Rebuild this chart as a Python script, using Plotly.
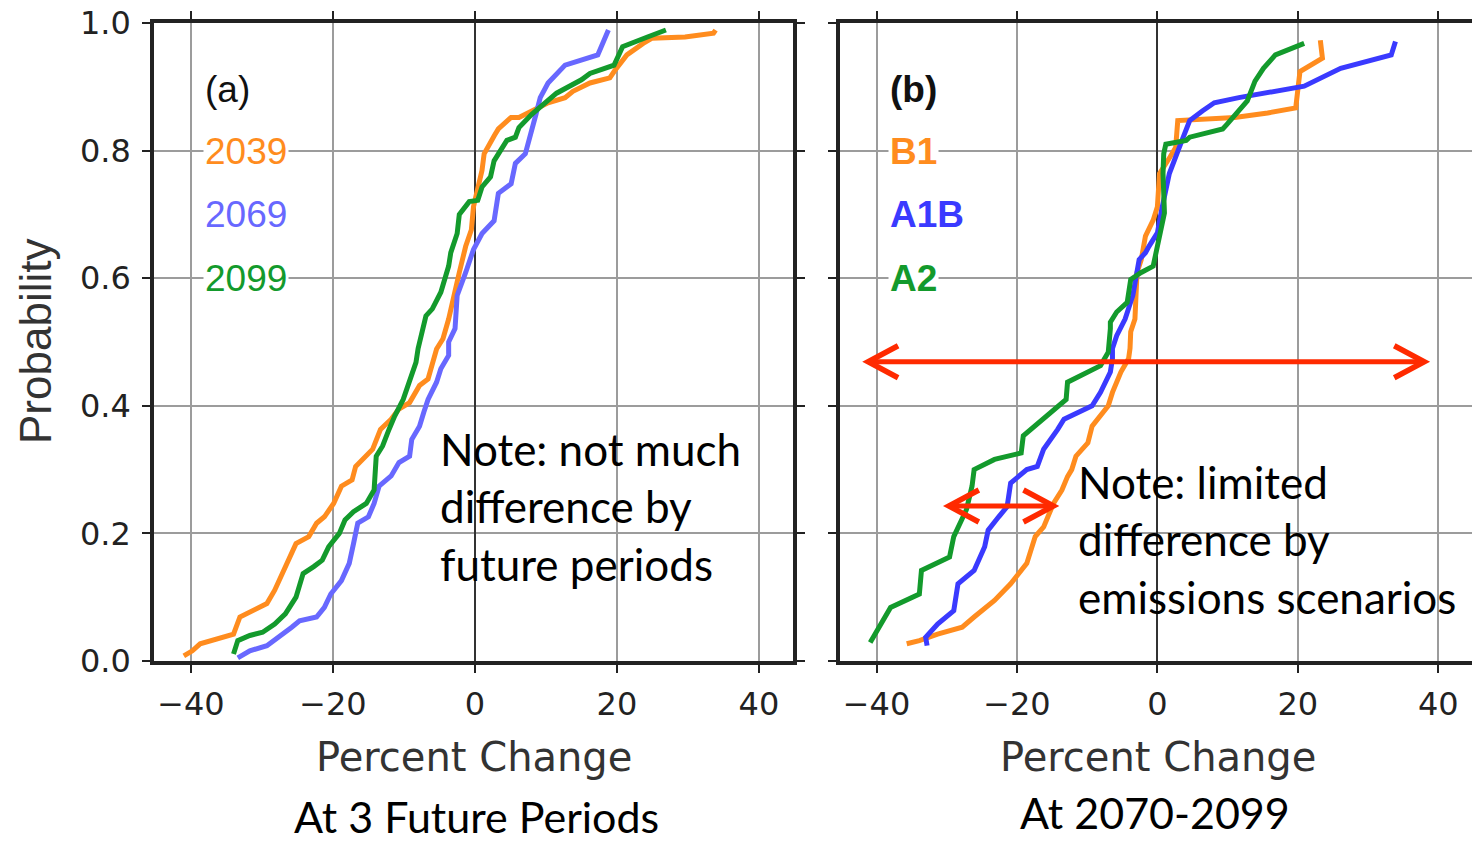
import plotly.graph_objects as go

# ---------------- data ----------------
# Panel (a): three future periods
a2039_x = [-41.0, -39.8, -38.7, -36.9, -34.0, -33.1, -31.1, -29.3, -28.2, -26.4, -25.2, -23.4, -22.3, -21.2,
           -19.9, -18.8, -17.3, -16.8, -15.3, -14.4, -13.3, -11.8, -10.7, -9.2, -7.8, -6.6, -5.4, -4.5, -3.7,
           -2.8, -2.2, -1.3, -0.5, -0.2, 0.4, 1.0, 1.3, 1.9, 2.7, 3.3, 5.1, 6.2, 8.6, 10.3, 12.7, 13.8, 16.2,
           19.0, 19.6, 21.4, 23.7, 24.9, 29.6, 33.6, 33.9]
a2039_p = [0.008, 0.016, 0.027, 0.032, 0.042, 0.069, 0.079, 0.090, 0.111, 0.153, 0.184, 0.195, 0.216, 0.226,
           0.247, 0.274, 0.284, 0.305, 0.321, 0.332, 0.363, 0.379, 0.395, 0.405, 0.432, 0.442, 0.489, 0.505, 0.536,
           0.583, 0.609, 0.650, 0.676, 0.712, 0.738, 0.769, 0.795, 0.808, 0.823, 0.834, 0.852, 0.852, 0.865, 0.875,
           0.883, 0.893, 0.906, 0.914, 0.924, 0.950, 0.968, 0.976, 0.978, 0.984, 0.989]

a2069_x = [-33.4, -31.7, -29.3, -27.6, -25.8, -24.7, -22.3, -21.2, -20.3, -18.8, -17.7, -17.1, -16.5, -15.0,
           -14.2, -13.5, -11.8, -10.7, -9.2, -8.9, -7.8, -7.2, -6.6, -5.4, -4.8, -3.7, -3.7, -2.8, -2.5, -1.3,
           -0.2, 1.0, 2.7, 3.3, 5.1, 5.7, 7.1, 8.6, 9.2, 10.3, 12.7, 17.3, 18.8]
a2069_p = [0.005, 0.016, 0.024, 0.037, 0.053, 0.063, 0.069, 0.084, 0.105, 0.126, 0.153, 0.184, 0.216, 0.226,
           0.247, 0.274, 0.290, 0.311, 0.321, 0.347, 0.368, 0.390, 0.410, 0.437, 0.458, 0.479, 0.500, 0.521, 0.573,
           0.609, 0.645, 0.670, 0.690, 0.733, 0.748, 0.780, 0.795, 0.857, 0.883, 0.906, 0.934, 0.950, 0.989]

a2099_x = [-34.0, -33.4, -31.7, -29.9, -28.2, -26.7, -25.2, -24.2, -22.7, -21.5, -20.6, -19.1, -18.3, -17.1,
           -15.3, -14.2, -13.9, -13.0, -12.1, -11.3, -10.1, -8.3, -8.0, -7.2, -6.9, -6.0, -4.8, -3.7, -3.4, -2.5,
           -2.2, -0.8, 0.4, 1.0, 2.2, 2.7, 4.5, 5.7, 6.2, 8.0, 11.5, 15.0, 16.2, 19.6, 20.8, 24.3, 26.9]
a2099_p = [0.011, 0.032, 0.040, 0.045, 0.058, 0.074, 0.100, 0.137, 0.148, 0.158, 0.179, 0.200, 0.221, 0.234,
           0.247, 0.268, 0.321, 0.337, 0.363, 0.384, 0.410, 0.468, 0.490, 0.530, 0.541, 0.552, 0.578, 0.619, 0.640,
           0.670, 0.700, 0.720, 0.722, 0.743, 0.759, 0.784, 0.816, 0.821, 0.836, 0.857, 0.890, 0.911, 0.921, 0.934,
           0.963, 0.978, 0.989]

# Panel (b): emissions scenarios at 2070-2099
bB1_x = [-35.7, -33.9, -31.3, -27.8, -26.1, -23.2, -20.9, -18.6, -17.4, -16.2, -14.8, -13.6, -12.8, -12.2,
         -11.6, -9.9, -9.3, -7.8, -7.0, -6.4, -5.2, -4.1, -3.9, -3.8, -3.2, -2.9, -2.3, -1.7, -0.6, 0.0, 0.3,
         1.8, 2.6, 2.9, 11.0, 15.7, 19.7, 20.3, 23.5, 23.2]
bB1_p = [0.027, 0.032, 0.042, 0.053, 0.069, 0.095, 0.121, 0.153, 0.195, 0.210, 0.247, 0.268, 0.289, 0.300,
         0.321, 0.342, 0.368, 0.389, 0.400, 0.421, 0.453, 0.474, 0.490, 0.516, 0.536, 0.609, 0.629, 0.666, 0.691,
         0.712, 0.764, 0.790, 0.805, 0.847, 0.852, 0.859, 0.867, 0.924, 0.945, 0.973]

bA1B_x = [-32.8, -33.0, -31.3, -29.0, -28.4, -26.1, -24.6, -24.1, -22.6, -21.4, -20.9, -18.6, -17.1, -16.2,
          -14.2, -13.3, -9.3, -8.1, -6.7, -6.4, -6.4, -5.8, -4.6, -3.5, -2.6, -1.7, -1.2, 0.0, 0.6, 1.2, 1.7,
          3.5, 4.6, 6.4, 8.1, 11.6, 19.1, 20.9, 26.1, 33.3, 33.9]
bA1B_p = [0.024, 0.037, 0.058, 0.079, 0.121, 0.142, 0.179, 0.205, 0.226, 0.242, 0.279, 0.300, 0.305, 0.332,
          0.363, 0.379, 0.400, 0.421, 0.453, 0.474, 0.490, 0.510, 0.536, 0.573, 0.629, 0.640, 0.650, 0.671, 0.707,
          0.743, 0.764, 0.816, 0.847, 0.862, 0.875, 0.883, 0.896, 0.901, 0.929, 0.950, 0.971]

bA2_x = [-40.9, -38.8, -38.0, -33.9, -33.6, -29.6, -29.0, -27.2, -26.4, -26.1, -23.2, -19.4, -19.1, -13.0,
         -12.8, -8.1, -7.0, -6.7, -6.7, -5.8, -4.3, -3.8, -2.3, -0.6, 0.6, 1.0, 0.8, 0.9, 1.2, 4.1, 4.6, 9.3,
         9.9, 11.6, 12.8, 13.9, 15.1, 16.8, 20.9]
bA2_p = [0.029, 0.069, 0.084, 0.105, 0.142, 0.163, 0.195, 0.237, 0.274, 0.300, 0.316, 0.326, 0.353, 0.410,
         0.437, 0.463, 0.484, 0.521, 0.531, 0.547, 0.562, 0.598, 0.609, 0.619, 0.676, 0.702, 0.764, 0.795, 0.810,
         0.816, 0.821, 0.834, 0.841, 0.862, 0.878, 0.909, 0.929, 0.950, 0.968]

x_ticks = [-40, -20, 0, 20, 40]
y_ticks = [0.0, 0.2, 0.4, 0.6, 0.8, 1.0]
y_tick_text = ["0.0", "0.2", "0.4", "0.6", "0.8", "1.0"]

labels_a = ["(a)", "2039", "2069", "2099"]
labels_b = ["(b)", "B1", "A1B", "A2"]
label_p = [0.895, 0.798, 0.700, 0.600]

note_a = ["Note: not much", "difference by", "future periods"]
note_a_p = [0.333, 0.243, 0.152]
note_b = ["Note: limited", "difference by", "emissions scenarios"]
note_b_p = [0.280, 0.191, 0.100]

# double-headed red arrows in panel (b): (x_left, x_right, probability)
arrows_b = [(-41.2, 38.0, 0.469), (-29.7, -14.8, 0.243)]

# ---------------- styling ----------------
ORANGE = "#FF8C1E"
BLUE_A = "#6868FF"
BLUE_B = "#3A3AFF"
GREEN = "#139A2C"
RED = "#FF2A00"
FRAME = "#222222"
GRID = "#9c9c9c"
TICK_FONT = "DejaVu Sans"
LAB_FONT = "Liberation Sans"
NOTE_FONT = "Lato"

W, H = 1472, 843
XR = [-45.2, 44.8]
dom_a = [154 / W, 793 / W]
dom_b = [840 / W, 1.0]
dom_y = [1 - 661 / H, 1 - 23 / H]

fig = go.Figure()

series = [
    (a2039_x, a2039_p, ORANGE, "x", "y", "2039"),
    (a2069_x, a2069_p, BLUE_A, "x", "y", "2069"),
    (a2099_x, a2099_p, GREEN, "x", "y", "2099"),
    (bB1_x, bB1_p, ORANGE, "x2", "y2", "B1"),
    (bA1B_x, bA1B_p, BLUE_B, "x2", "y2", "A1B"),
    (bA2_x, bA2_p, GREEN, "x2", "y2", "A2"),
]
for xs, ps, col, xa, ya, nm in series:
    fig.add_trace(go.Scatter(x=xs, y=ps, mode="lines", name=nm, xaxis=xa, yaxis=ya,
                             line=dict(color=col, width=5), showlegend=False))

common_x = dict(range=XR, tickvals=x_ticks, ticks="outside", ticklen=8, tickwidth=1.5, tickcolor=FRAME,
                showgrid=True, gridcolor=GRID, gridwidth=1.5, zeroline=True, zerolinecolor="#333333",
                zerolinewidth=2, showline=True, linecolor=FRAME, linewidth=3.5, mirror="ticks",
                automargin=False,
                tickfont=dict(family=TICK_FONT, size=32, color="#222222"), ticklabelstandoff=4)
common_y = dict(range=[0, 1], domain=dom_y, tickvals=y_ticks, ticktext=y_tick_text, ticks="outside", ticklen=8,
                tickwidth=1.5, tickcolor=FRAME, showgrid=True, gridcolor=GRID, gridwidth=1.5, zeroline=False,
                showline=True, linecolor=FRAME, linewidth=3.5, automargin=False,
                tickfont=dict(family=TICK_FONT, size=32, color="#222222"))

fig.update_layout(
    width=W, height=H, margin=dict(l=0, r=0, t=0, b=0, autoexpand=False),
    paper_bgcolor="white", plot_bgcolor="white",
    xaxis=dict(domain=dom_a, anchor="y", **common_x),
    xaxis2=dict(domain=dom_b, anchor="y2", **common_x),
    yaxis=dict(anchor="x", mirror="ticks", ticklabelstandoff=5, **common_y),
    yaxis2=dict(anchor="x2", mirror=False, showticklabels=False, **common_y),
)

ann = []
cols_a = ["#111111", ORANGE, BLUE_A, GREEN]
cols_b = ["#111111", ORANGE, BLUE_B, GREEN]
for txt, p, c in zip(labels_a, label_p, cols_a):
    ann.append(dict(x=-38.3, y=p, xref="x", yref="y", text=txt, showarrow=False, xanchor="left",
                    yanchor="middle", bgcolor="white", borderpad=1,
                    font=dict(family=LAB_FONT, size=37, color=c)))
for txt, p, c in zip(labels_b, label_p, cols_b):
    ann.append(dict(x=-38.3, y=p, xref="x2", yref="y2", text="<b>" + txt + "</b>", showarrow=False,
                    xanchor="left", yanchor="middle", bgcolor="white", borderpad=1,
                    font=dict(family=LAB_FONT, size=37, color=c)))
for txt, p in zip(note_a, note_a_p):
    ann.append(dict(x=-5.2, y=p, xref="x", yref="y", text=txt, showarrow=False, xanchor="left",
                    yanchor="middle", font=dict(family=NOTE_FONT, size=44, color="black")))
for txt, p in zip(note_b, note_b_p):
    ann.append(dict(x=-11.6, y=p, xref="x2", yref="y2", text=txt, showarrow=False, xanchor="left",
                    yanchor="middle", font=dict(family=NOTE_FONT, size=44, color="black")))

ann += [
    dict(x=474 / W, y=1 - 757 / H, xref="paper", yref="paper", text="Percent Change", showarrow=False,
         xanchor="center", yanchor="middle", font=dict(family=TICK_FONT, size=40, color="#333333")),
    dict(x=1158 / W, y=1 - 757 / H, xref="paper", yref="paper", text="Percent Change", showarrow=False,
         xanchor="center", yanchor="middle", font=dict(family=TICK_FONT, size=40, color="#333333")),
    dict(x=35 / W, y=1 - 342 / H, xref="paper", yref="paper", text="Probability", showarrow=False,
         xanchor="center", yanchor="middle", textangle=-90,
         font=dict(family=LAB_FONT, size=44, color="#333333")),
    dict(x=476 / W, y=0, xref="paper", yref="paper", text="At 3 Future Periods", showarrow=False,
         xanchor="center", yanchor="bottom", borderpad=0, font=dict(family=NOTE_FONT, size=43, color="black")),
    dict(x=1155 / W, y=0, yshift=4, xref="paper", yref="paper", text="At 2070-2099", showarrow=False,
         xanchor="center", yanchor="bottom", borderpad=0, font=dict(family=NOTE_FONT, size=43, color="black")),
]
fig.update_layout(annotations=ann)

shapes = []
for x0, x1, p in arrows_b:
    shapes.append(dict(type="line", xref="x2", yref="y2", x0=x0, x1=x1, y0=p, y1=p,
                       line=dict(color=RED, width=5)))
    shapes.append(dict(type="path", xref="x2", yref="y2", xsizemode="pixel", ysizemode="pixel",
                       xanchor=x0, yanchor=p, path="M 30,16 L 0,0 L 30,-16",
                       line=dict(color=RED, width=5.5)))
    shapes.append(dict(type="path", xref="x2", yref="y2", xsizemode="pixel", ysizemode="pixel",
                       xanchor=x1, yanchor=p, path="M -30,16 L 0,0 L -30,-16",
                       line=dict(color=RED, width=5.5)))
fig.update_layout(shapes=shapes)

fig.write_html("out.html")
